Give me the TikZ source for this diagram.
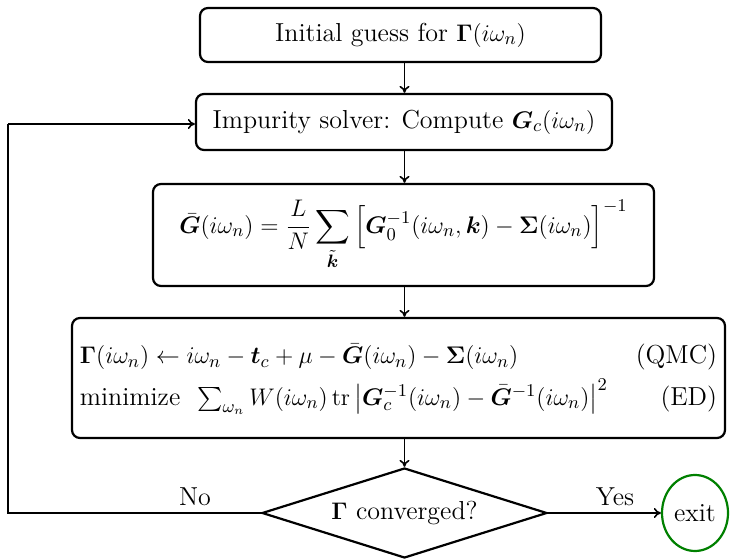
\documentclass[tikz,border=0pt]{standalone}
\usepackage{amsmath,bm}
\usetikzlibrary{shapes.geometric,arrows.meta}
\begin{document}
\begin{tikzpicture}[x=0.5pt,y=-0.5pt,
  font=\fontsize{13}{16}\selectfont,
  procbox/.style={draw,line width=1.1pt,rounded corners=4pt,align=center,inner sep=2pt},
  decbox/.style={draw,line width=1.1pt,diamond,aspect=3.17,inner sep=0pt},
  exitbox/.style={draw=green!50!black,line width=1.1pt,ellipse,inner sep=0pt},
  conn/.style={line width=0.8pt,-{To[length=3.5pt,width=5pt]}},
  plain/.style={line width=0.8pt}]
\useasboundingbox (0,0) rectangle (733,560);
\node[procbox,minimum width=200.5pt,minimum height=27pt] (init) at (400.5,35)
  {Initial guess for $\mathbf{\Gamma}(i\omega_n)$};
\node[procbox,minimum width=208pt,minimum height=28pt] (solver) at (404,122)
  {Impurity solver: Compute $\bm{G}_c(i\omega_n)$};
\node[procbox,minimum width=250.5pt,minimum height=51pt] (gbar) at (403.5,235)
  {$\displaystyle \bar{\bm G}(i\omega_n)=\frac{L}{N}\sum_{\tilde{\bm k}}\Big[\bm G_0^{-1}(i\omega_n,\bm k)-\mathbf\Sigma(i\omega_n)\Big]^{-1}$};
\node[procbox,minimum width=326.5pt,minimum height=60pt] (update) at (398.5,378)
  {\begin{tabular}{@{}l@{\hspace{14pt}}r@{}}
   $\mathbf\Gamma(i\omega_n)\leftarrow i\omega_n-\bm t_c+\mu-\bar{\bm G}(i\omega_n)-\mathbf\Sigma(i\omega_n)$ & (QMC)\\[3pt]
   minimize\ \ $\sum_{\omega_n}W(i\omega_n)\,\mathrm{tr}\left|\bm G_c^{-1}(i\omega_n)-\bar{\bm G}^{-1}(i\omega_n)\right|^2$ & (ED)
   \end{tabular}};
\node[decbox,minimum width=142.5pt,minimum height=45pt] (conv) at (404.5,513)
  {$\mathbf\Gamma$ converged?};
\node[exitbox,minimum width=33pt,minimum height=38pt] (exit) at (695,513) {exit};
\coordinate (bl) at (8,513);
\coordinate (tl) at (8,124);
\draw[conn] (init.south -| conv) -- (solver.north -| conv);
\draw[conn] (solver.south -| conv) -- (gbar.north -| conv);
\draw[conn] (gbar.south -| conv) -- (update.north -| conv);
\draw[conn] (update.south -| conv) -- (conv.north);
\draw[conn] (conv.east) -- (exit.west);
\draw[plain] (conv.west) -- (bl) -- (tl);
\draw[conn] (tl) -- (tl -| solver.west);
\node (no) at (195,497) {No};
\node (yes) at (615,497) {Yes};
\end{tikzpicture}
\end{document}
